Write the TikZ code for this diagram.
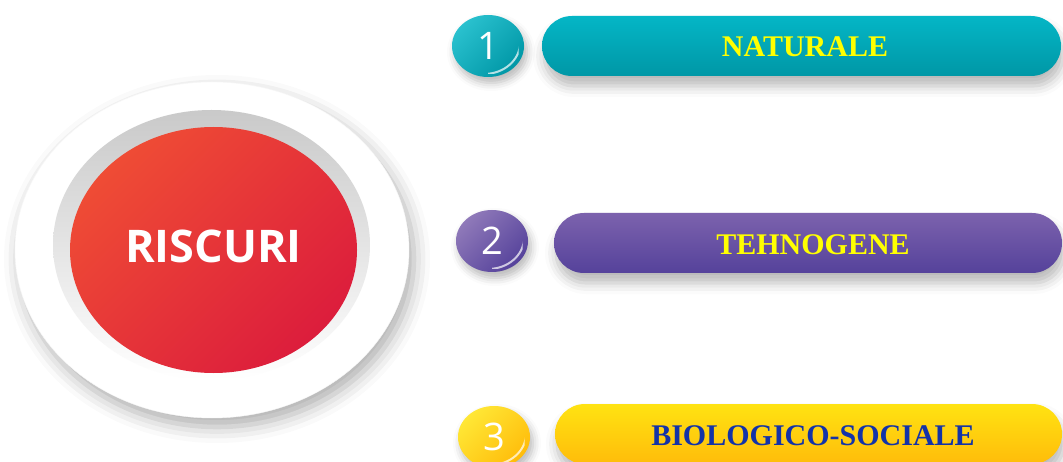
\documentclass[tikz,border=0pt]{standalone}
\usepackage{fontspec}
\setmainfont{Liberation Serif}
\newfontfamily\opensans{Open Sans}
\usetikzlibrary{shapes.geometric,shadows.blur}
\definecolor{tealA}{HTML}{04B6C6}
\definecolor{tealB}{HTML}{0097A6}
\definecolor{purA}{HTML}{7C62AD}
\definecolor{purB}{HTML}{55429B}
\definecolor{yelA}{HTML}{FFE312}
\definecolor{yelB}{HTML}{FFBC0A}
\definecolor{redA}{HTML}{EF4C35}
\definecolor{redB}{HTML}{DC1D3C}
\definecolor{txtY}{HTML}{FFFF00}
\definecolor{txtB}{HTML}{1333A8}
\newcommand{\glossrim}[1]{%
  \begin{scope}
    \clip (#1.center) ellipse [x radius=36, y radius=31];
    \clip (#1.center) rectangle ([shift={(5,5)}]#1.south east);
    \draw[white, line width=2pt, opacity=.7] ([shift={(-4,-3)}]#1.center) ellipse [x radius=36, y radius=31];
  \end{scope}}
\begin{document}
\begin{tikzpicture}[x=1pt,y=-1pt,
  pill/.style={rectangle, rounded corners=30pt, minimum height=60pt, inner sep=0pt,
    blur shadow={shadow xshift=2pt, shadow yshift=-10pt, shadow blur radius=11pt, shadow opacity=28}},
  numc/.style={ellipse, minimum width=72pt, minimum height=62pt, inner sep=0pt, text=white,
    font=\opensans\fontsize{38}{38}\selectfont,
    blur shadow={shadow xshift=3pt, shadow yshift=-6pt, shadow blur radius=8pt, shadow opacity=28}},
  ptext/.style={font=\bfseries\fontsize{30}{30}\selectfont}
]
\useasboundingbox (0,0) rectangle (1063,462);
% big button
\node[ellipse, minimum width=394pt, minimum height=336pt, inner sep=0pt, fill=white, draw=gray!6,
  blur shadow={shadow xshift=5pt, shadow yshift=-9pt, shadow blur radius=16pt, shadow opacity=32}] (outer) at (212,250) {};
\node[ellipse, minimum width=317pt, minimum height=270pt, inner sep=0pt, top color=gray!42, bottom color=white] (bevel) at (211.5,245) {};
\node[ellipse, minimum width=287pt, minimum height=246pt, inner sep=0pt, top color=redA, bottom color=redB, shading angle=45] (core) at (213.5,250) {};
\node[text=white, font=\opensans\bfseries\fontsize{45}{45}\selectfont] (title) at ([yshift=4pt]core.center) {RISCURI};
% items
\node[numc, top color=tealA!85!white, bottom color=tealB, shading angle=45] (n1) at (488,46) {1};
\glossrim{n1}
\node[pill, minimum width=519pt, top color=tealA, bottom color=tealB] (p1) at (801.5,46) {};
\node[ptext, text=txtY] (t1) at (805,47) {NATURALE};
\node[numc, top color=purA!85!white, bottom color=purB, shading angle=45] (n2) at (492,241) {2};
\glossrim{n2}
\node[pill, minimum width=508pt, top color=purA, bottom color=purB] (p2) at (808,243) {};
\node[ptext, text=txtY] (t2) at (813,245) {TEHNOGENE};
\node[numc, top color=yelA!85!white, bottom color=yelB, shading angle=45] (n3) at (494,437) {3};
\glossrim{n3}
\node[pill, minimum width=507pt, top color=yelA, bottom color=yelB] (p3) at (808.5,434) {};
\node[ptext, text=txtB] (t3) at (813,436) {BIOLOGICO-SOCIALE};
\end{tikzpicture}
\end{document}
